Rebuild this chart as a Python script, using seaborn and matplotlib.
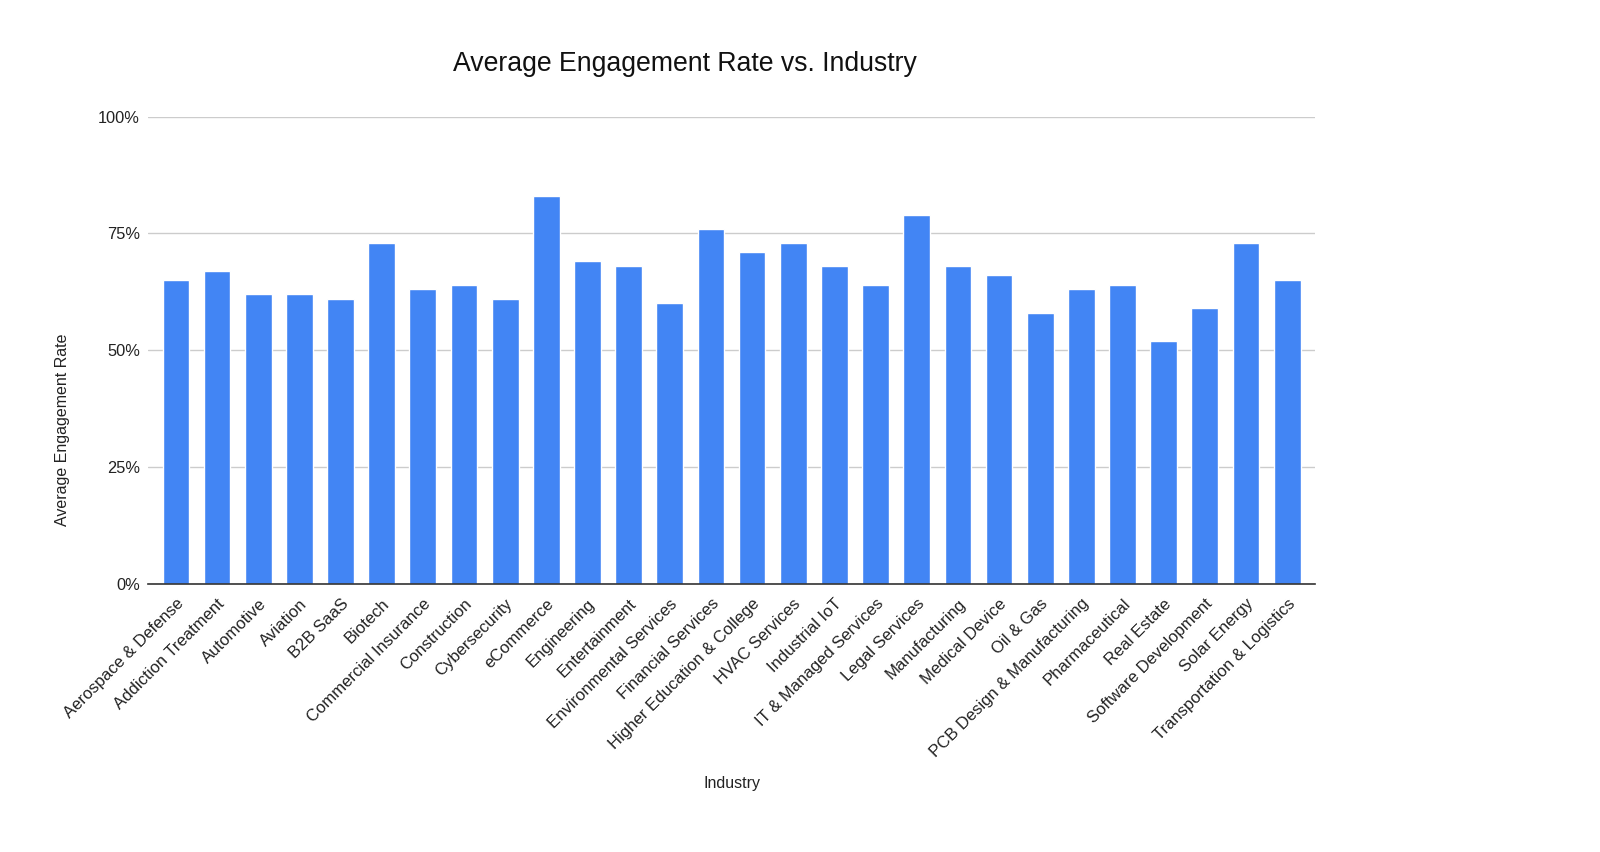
import matplotlib
matplotlib.use("Agg")
import matplotlib.pyplot as plt
import pandas as pd
import seaborn as sns
from matplotlib.ticker import PercentFormatter, FixedLocator

industries = [
    "Aerospace & Defense", "Addiction Treatment", "Automotive", "Aviation",
    "B2B SaaS", "Biotech", "Commercial Insurance", "Construction",
    "Cybersecurity", "eCommerce", "Engineering", "Entertainment",
    "Environmental Services", "Financial Services", "Higher Education & College",
    "HVAC Services", "Industrial IoT", "IT & Managed Services", "Legal Services",
    "Manufacturing", "Medical Device", "Oil & Gas", "PCB Design & Manufacturing",
    "Pharmaceutical", "Real Estate", "Software Development", "Solar Energy",
    "Transportation & Logistics",
]
engagement = [
    65, 67, 62, 62, 61, 73, 63, 64, 61, 83, 69, 68, 60, 76,
    71, 73, 68, 64, 79, 68, 66, 58, 63, 64, 52, 59, 73, 65,
]
y_ticks = [0, 25, 50, 75, 100]

BAR_COLOR = "#4285F4"
FONT = ["Liberation Sans", "DejaVu Sans"]


def main():
    sns.set_theme(style="white")
    plt.rcParams["font.family"] = FONT

    df = pd.DataFrame({"Industry": industries, "Rate": engagement})

    fig = plt.figure(figsize=(16, 8.52), dpi=100)
    ax = fig.add_axes([0.0927, 0.315, 0.729, 0.548])

    sns.barplot(data=df, x="Industry", y="Rate", color=BAR_COLOR,
                width=0.65, saturation=1, ax=ax, zorder=3)

    ax.set_ylim(0, 100)
    ax.set_xlim(-0.67, len(industries) - 1 + 0.67)
    ax.yaxis.set_major_locator(FixedLocator(y_ticks))
    ax.yaxis.set_major_formatter(PercentFormatter(decimals=0))
    ax.grid(axis="y", color="#cccccc", linewidth=1, zorder=0)
    for s in ["top", "right", "left"]:
        ax.spines[s].set_visible(False)
    ax.spines["bottom"].set_color("#333333")
    ax.spines["bottom"].set_linewidth(1.2)
    ax.spines["bottom"].set_zorder(4)
    ax.tick_params(axis="y", length=0, pad=6, labelsize=11.8, labelcolor="#222222")
    ax.tick_params(axis="x", length=0, pad=9, labelsize=12, labelcolor="#222222")
    plt.setp(ax.get_xticklabels(), rotation=45, ha="right", va="top",
             rotation_mode="anchor")

    ax.set_xlabel("")
    ax.set_ylabel("")
    fig.text(0.428, 0.925, "Average Engagement Rate vs. Industry",
             ha="center", va="center", fontsize=19.2, color="#111111")
    fig.text(0.4575, 0.080, "Industry", ha="center", va="center",
             fontsize=11.5, color="#222222")
    fig.text(0.039, 0.496, "Average Engagement Rate", ha="center",
             va="center", rotation=90, fontsize=11.5, color="#222222")

    fig.savefig("out.png", dpi=100, facecolor="white")
    plt.close(fig)


if __name__ == "__main__":
    main()
